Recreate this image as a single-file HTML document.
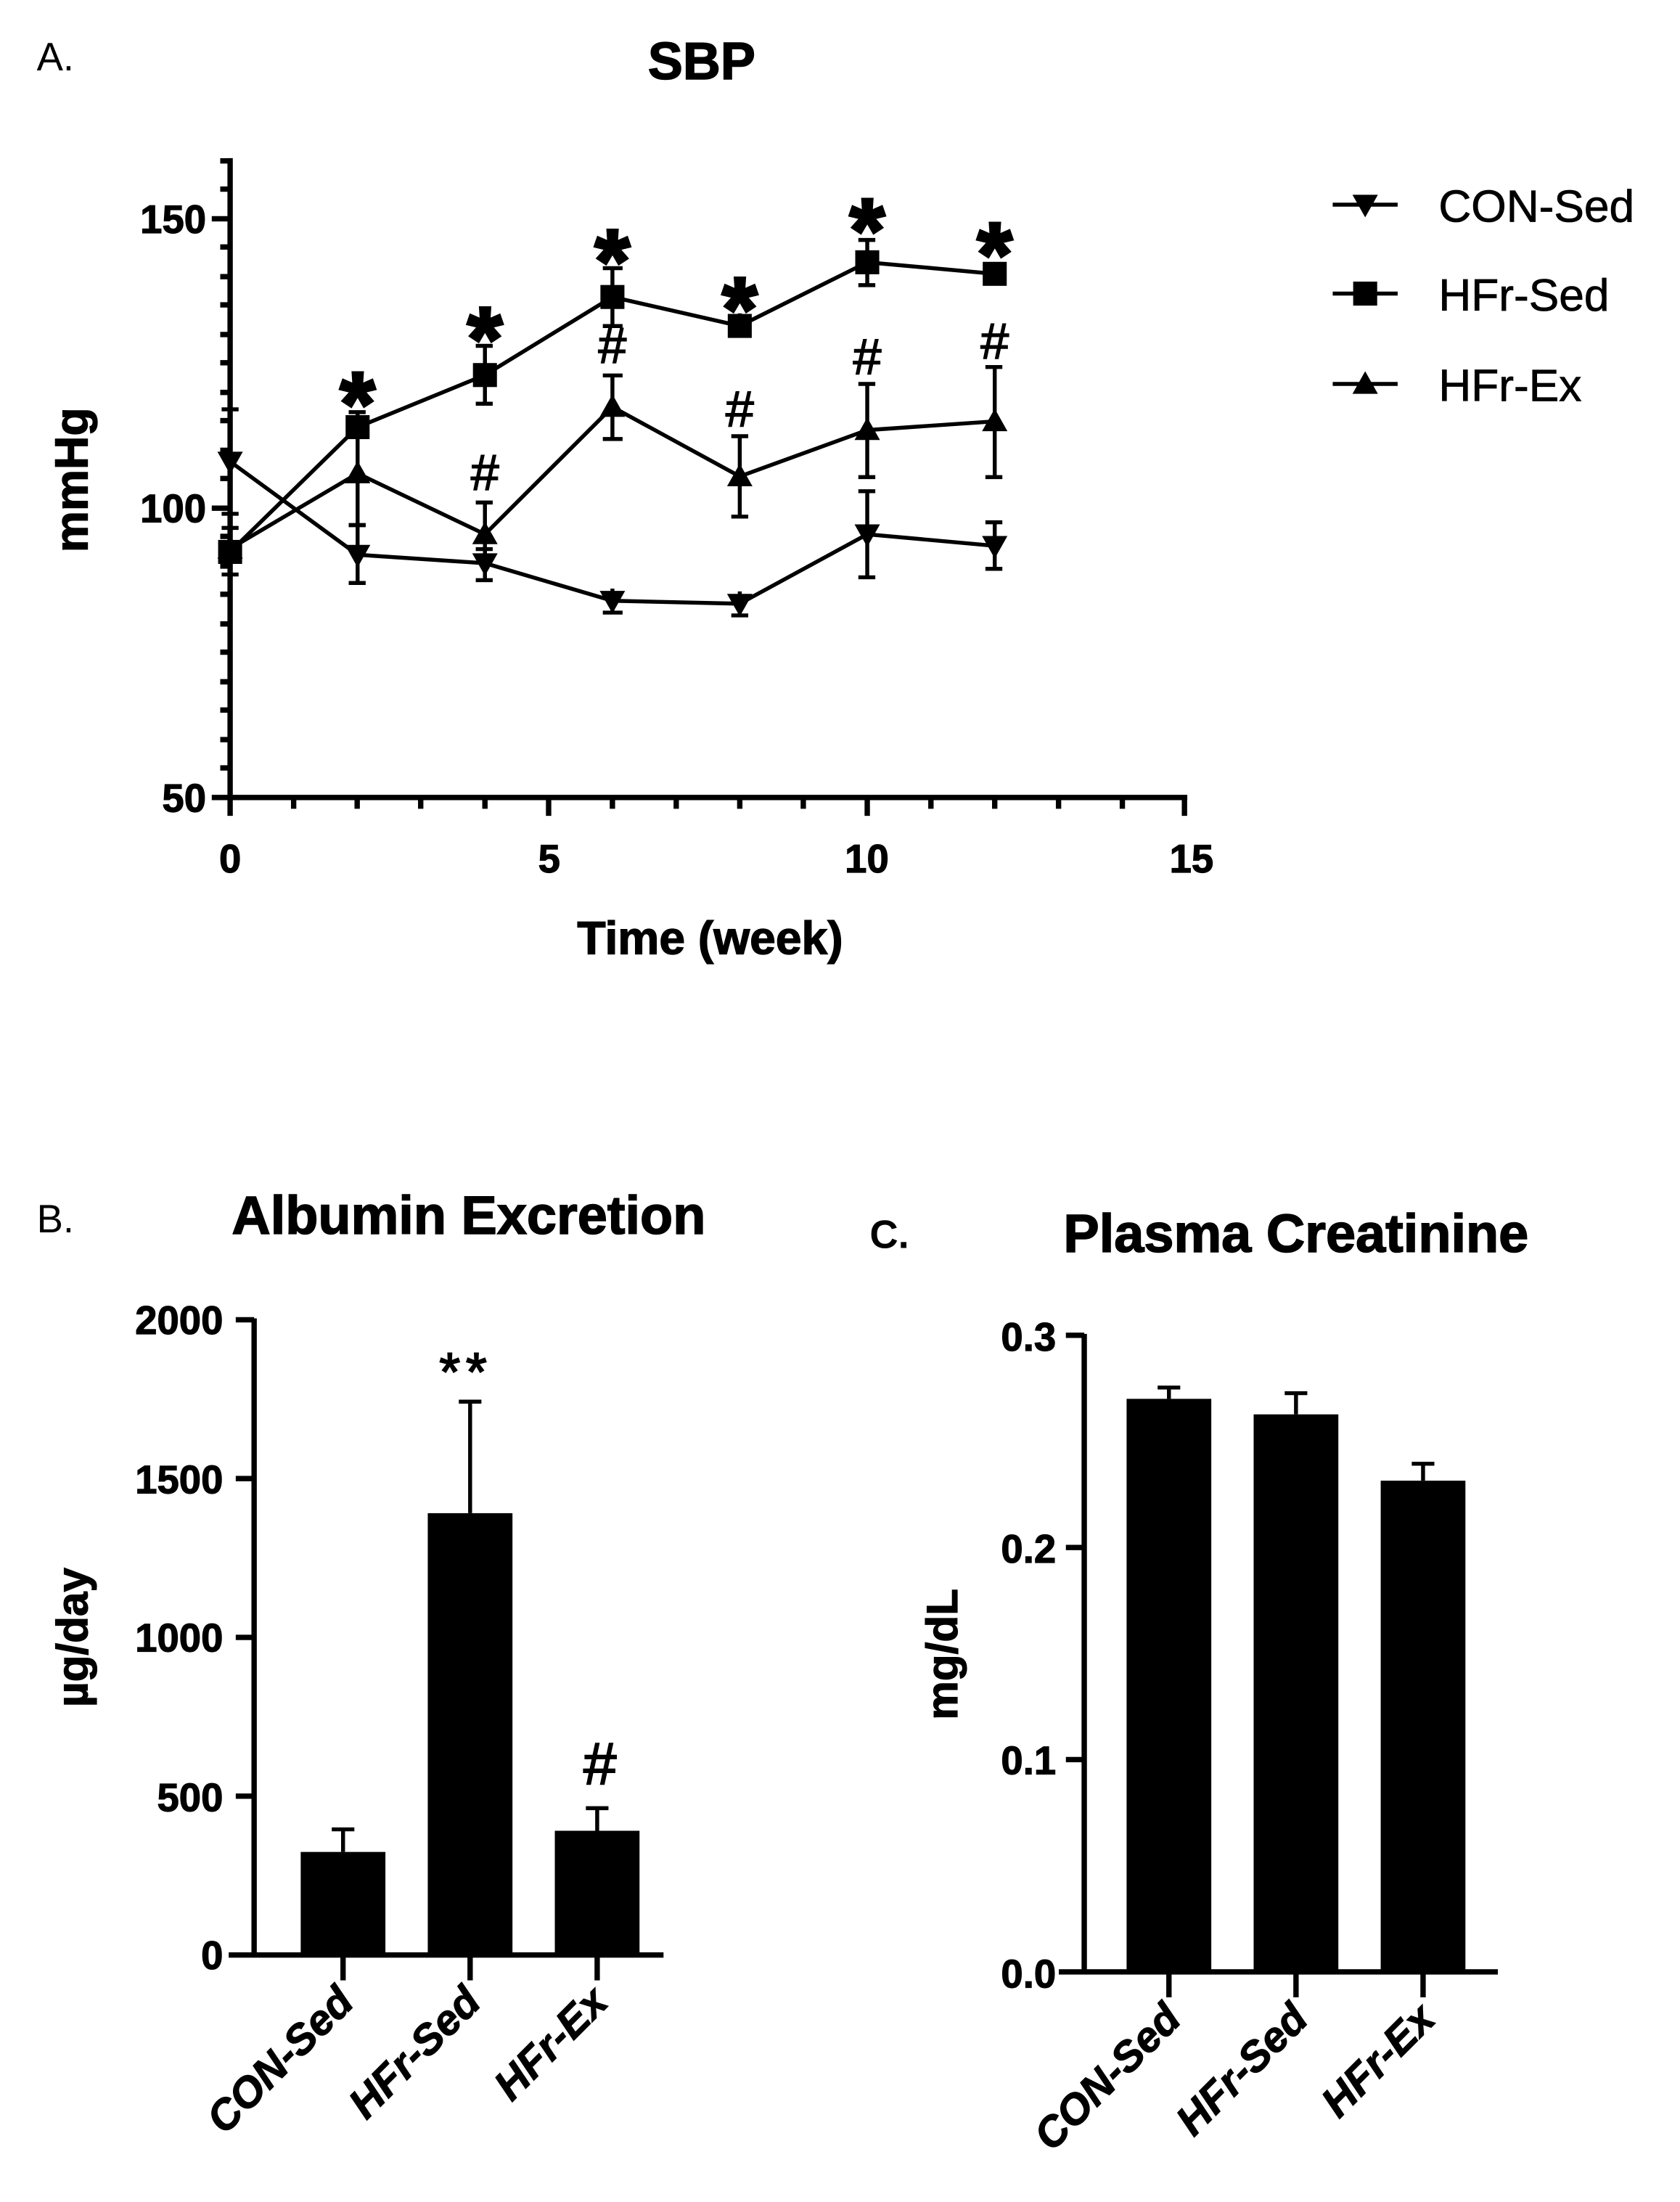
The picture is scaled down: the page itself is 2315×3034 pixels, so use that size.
<!DOCTYPE html>
<html><head><meta charset="utf-8"><style>html,body{margin:0;padding:0;background:#fff}svg{display:block}</style></head>
<body>
<svg width="2315" height="3034" viewBox="0 0 1190 1560" preserveAspectRatio="none" xmlns="http://www.w3.org/2000/svg" font-family="Liberation Sans, sans-serif">
<defs>
<path id="tri" d="M-9,7 L9,7 L0,-9 Z"/>
<path id="itri" d="M-9,-7 L9,-7 L0,9 Z"/>
<rect id="sq" x="-8.5" y="-8.5" width="17" height="17"/>
</defs>
<!-- Panel A -->
<text x="26" y="50" font-size="28">A.</text>
<text x="497" y="56" font-size="37" font-weight="bold" text-anchor="middle" stroke="#000" stroke-width="0.8">SBP</text>
<g stroke="#000" stroke-width="3.8" fill="none">
<line x1="163" y1="112" x2="163" y2="566"/>
<line x1="161" y1="565" x2="841" y2="565"/>
<path d="M163,155h-13 M163,360h-13 M163,565h-13 M163,134h-7 M163,175h-7 M163,196h-7 M163,216h-7 M163,237h-7 M163,257h-7 M163,278h-7 M163,298h-7 M163,319h-7 M163,339h-7 M163,380h-7 M163,401h-7 M163,421h-7 M163,442h-7 M163,462h-7 M163,483h-7 M163,503h-7 M163,524h-7 M163,544h-7 M163,114h-7"/>
<path d="M163,565v13 M388.6,565v13 M614.3,565v13 M839,565v13 M208,565v8 M253,565v8 M298,565v8 M343.5,565v8 M433.8,565v8 M479,565v8 M524,565v8 M569,565v8 M659.4,565v8 M704.6,565v8 M749.8,565v8 M795,565v8"/>
</g>
<g font-size="28" font-weight="bold" text-anchor="end" stroke="#000" stroke-width="0.6">
<text x="146" y="165">150</text><text x="146" y="370">100</text><text x="146" y="575">50</text>
</g>
<g font-size="28" font-weight="bold" text-anchor="middle" stroke="#000" stroke-width="0.6">
<text x="163" y="618">0</text><text x="389" y="618">5</text><text x="614" y="618">10</text><text x="844" y="618">15</text>
</g>
<text x="503" y="676" font-size="33" font-weight="bold" text-anchor="middle" stroke="#000" stroke-width="0.7">Time (week)</text>
<text transform="translate(62,340) rotate(-90)" font-size="33" font-weight="bold" text-anchor="middle" stroke="#000" stroke-width="0.7">mmHg</text>
<g stroke="#000" stroke-width="2.8">
<path d="M163,290v74 M157,290h12 M157,364h12 M253.3,372v41 M247,372h12 M247,413h12 M343.5,389v22 M337,389h12 M337,411h12 M433.8,417v17 M427,434h14 M524,419v17 M518,436h12 M614.3,348v61 M608,348h12 M608,409h12 M704.6,370v33 M698,370h12 M698,403h12"/>
<path d="M163,374v33 M157,374h12 M157,407h12 M253.3,292v21 M247,292h12 M343.5,245v41 M337,245h12 M337,286h12 M433.8,190v41 M427,190h14 M427,231h14 M524,222v17 M614.3,170v32 M608,170h12 M608,202h12 M704.6,186v16"/>
<path d="M253.3,298v74 M247,372h12 M343.5,356v45 M337,356h12 M433.8,266v45 M427,266h14 M427,311h14 M524,309v57 M518,309h12 M518,366h12 M614.3,272v66 M608,272h12 M608,338h12 M704.6,260v78 M698,260h12 M698,338h12"/>
</g>
<g stroke="#000" stroke-width="2.8" fill="none">
<polyline points="163,327 253.3,393 343.5,399 433.8,425.6 524,427.7 614.3,378.5 704.6,386.7"/>
<polyline points="163,391 253.3,302.6 343.5,265.7 433.8,210.4 524,230.9 614.3,185.8 704.6,194"/>
<polyline points="163,388.7 253.3,335.4 343.5,378.5 433.8,288.3 524,337.5 614.3,304.7 704.6,298.5"/>
</g>
<g fill="#000">
<use href="#itri" x="163" y="327"/><use href="#itri" x="253.3" y="393"/><use href="#itri" x="343.5" y="399"/><use href="#itri" x="433.8" y="425.6"/><use href="#itri" x="524" y="427.7"/><use href="#itri" x="614.3" y="378.5"/><use href="#itri" x="704.6" y="386.7"/>
<use href="#sq" x="163" y="391"/><use href="#sq" x="253.3" y="302.6"/><use href="#sq" x="343.5" y="265.7"/><use href="#sq" x="433.8" y="210.4"/><use href="#sq" x="524" y="230.9"/><use href="#sq" x="614.3" y="185.8"/><use href="#sq" x="704.6" y="194"/>
<use href="#tri" x="163" y="388.7"/><use href="#tri" x="253.3" y="335.4"/><use href="#tri" x="343.5" y="378.5"/><use href="#tri" x="433.8" y="288.3"/><use href="#tri" x="524" y="337.5"/><use href="#tri" x="614.3" y="304.7"/><use href="#tri" x="704.6" y="298.5"/>
</g>
<g font-size="64" font-weight="bold" text-anchor="middle" stroke="#000" stroke-width="2">
<text x="253.3" y="308">*</text><text x="343.5" y="262">*</text><text x="433.8" y="207">*</text><text x="524" y="241">*</text><text x="614.3" y="185">*</text><text x="704.6" y="202">*</text>
</g>
<g font-size="36" text-anchor="middle" stroke="#000" stroke-width="0.8">
<text x="343.5" y="347">#</text><text x="433.8" y="257">#</text><text x="524" y="302">#</text><text x="614.3" y="265">#</text><text x="704.6" y="254">#</text>
</g>
<g stroke="#000" stroke-width="2.8"><path d="M944,145h46 M944,208h46 M944,272h46"/></g>
<use href="#itri" x="967" y="145"/><use href="#sq" x="967" y="208"/><use href="#tri" x="967" y="272"/>
<g font-size="32" stroke="#000" stroke-width="0.4"><text x="1019" y="157">CON-Sed</text><text x="1019" y="220">HFr-Sed</text><text x="1019" y="284">HFr-Ex</text></g>

<!-- Panel B -->
<text x="26" y="873" font-size="28">B.</text>
<text x="332" y="874" font-size="38" font-weight="bold" text-anchor="middle" stroke="#000" stroke-width="0.8">Albumin Excretion</text>
<g stroke="#000" stroke-width="3.8" fill="none">
<line x1="180" y1="934" x2="180" y2="1386"/>
<line x1="162" y1="1385" x2="470" y2="1385"/>
<path d="M180,935h-13 M180,1047.5h-13 M180,1160h-13 M180,1272.5h-13 M243,1385v18 M333,1385v18 M423,1385v18"/>
</g>
<g font-size="28" font-weight="bold" text-anchor="end" stroke="#000" stroke-width="0.6">
<text x="158" y="945">2000</text><text x="158" y="1058">1500</text><text x="158" y="1170">1000</text><text x="158" y="1283">500</text><text x="158" y="1395">0</text>
</g>
<text transform="translate(62,1160) rotate(-90)" font-size="31" font-weight="bold" text-anchor="middle" stroke="#000" stroke-width="0.6">µg/day</text>
<g fill="#000"><rect x="213" y="1312" width="60" height="73"/><rect x="303" y="1072" width="60" height="313"/><rect x="393" y="1297" width="60" height="88"/></g>
<g stroke="#000" stroke-width="2.8"><path d="M243,1296v16 M235,1296h16 M333,993v79 M325,993h16 M423,1281v16 M415,1281h16"/></g>
<text x="330" y="985" font-size="38" text-anchor="middle" letter-spacing="4" stroke="#000" stroke-width="1">**</text>
<text x="425" y="1264" font-size="42" text-anchor="middle" stroke="#000" stroke-width="1">#</text>
<g font-size="30" font-weight="bold" font-style="italic" text-anchor="end" stroke="#000" stroke-width="0.6">
<text transform="translate(252,1420) rotate(-45)">CON-Sed</text>
<text transform="translate(342,1420) rotate(-45)">HFr-Sed</text>
<text transform="translate(432,1420) rotate(-45)">HFr-Ex</text>
</g>

<!-- Panel C -->
<text x="616" y="884" font-size="28" font-weight="bold">C.</text>
<text x="918" y="887" font-size="38" font-weight="bold" text-anchor="middle" stroke="#000" stroke-width="0.8">Plasma Creatinine</text>
<g stroke="#000" stroke-width="3.8" fill="none">
<line x1="768" y1="945" x2="768" y2="1398"/>
<line x1="750" y1="1397" x2="1061" y2="1397"/>
<path d="M768,946h-13 M768,1096.3h-13 M768,1246.6h-13 M828,1397v18 M918,1397v18 M1008,1397v18"/>
</g>
<g font-size="28" font-weight="bold" text-anchor="end" stroke="#000" stroke-width="0.6">
<text x="748" y="957">0.3</text><text x="748" y="1107">0.2</text><text x="748" y="1257">0.1</text><text x="748" y="1408">0.0</text>
</g>
<text transform="translate(678,1172) rotate(-90)" font-size="31" font-weight="bold" text-anchor="middle" stroke="#000" stroke-width="0.6">mg/dL</text>
<g fill="#000"><rect x="798" y="991" width="60" height="406"/><rect x="888" y="1002" width="60" height="395"/><rect x="978" y="1049" width="60" height="348"/></g>
<g stroke="#000" stroke-width="2.8"><path d="M828,983v8 M820,983h16 M918,987v15 M910,987h16 M1008,1037v12 M1000,1037h16"/></g>
<g font-size="30" font-weight="bold" font-style="italic" text-anchor="end" stroke="#000" stroke-width="0.6">
<text transform="translate(838,1432) rotate(-45)">CON-Sed</text>
<text transform="translate(928,1432) rotate(-45)">HFr-Sed</text>
<text transform="translate(1018,1432) rotate(-45)">HFr-Ex</text>
</g>
</svg>
</body></html>
